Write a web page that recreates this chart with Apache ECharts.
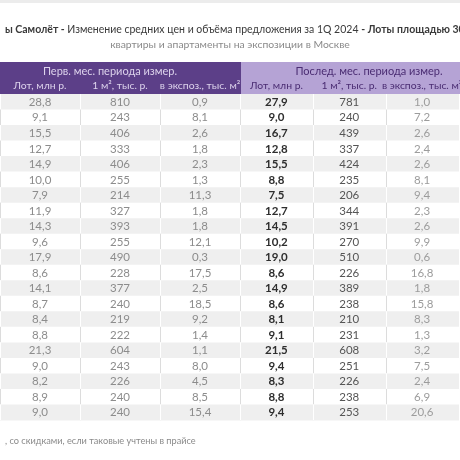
<!DOCTYPE html>
<html><head><meta charset="utf-8">
<script src="https://cdn.jsdelivr.net/npm/echarts@6/dist/echarts.min.js"></script>
<style>html,body{margin:0;padding:0;background:#fff}#c{width:460px;height:460px}</style>
</head><body><div id="c"></div>
<script>
// ---- data ----
const rowIds = ['1','2','3','4','5','6','7','8','9','10','11','12','13','14','15','16','17','18','19','20','21'];
const colHeaders = ['Лот, млн р.', '1 м², тыс. р.', 'в экспоз., тыс. м²'];
const groupHeaders = ['Перв. мес. периода измер.', 'Послед. мес. периода измер.'];
const lotFirst  = [28.8, 9.1, 15.5, 12.7, 14.9, 10.0, 7.9, 11.9, 14.3, 9.6, 17.9, 8.6, 14.1, 8.7, 8.4, 8.8, 21.3, 9.0, 8.2, 8.9, 9.0];
const m2First   = [810, 243, 406, 333, 406, 255, 214, 327, 393, 255, 490, 228, 377, 240, 219, 222, 604, 243, 226, 240, 240];
const expoFirst = [0.9, 8.1, 2.6, 1.8, 2.3, 1.3, 11.3, 1.8, 1.8, 12.1, 0.3, 17.5, 2.5, 18.5, 9.2, 1.4, 1.1, 8.0, 4.5, 8.5, 15.4];
const lotLast   = [27.9, 9.0, 16.7, 12.8, 15.5, 8.8, 7.5, 12.7, 14.5, 10.2, 19.0, 8.6, 14.9, 8.6, 8.1, 9.1, 21.5, 9.4, 8.3, 8.8, 9.4];
const m2Last    = [781, 240, 439, 337, 424, 235, 206, 344, 391, 270, 510, 226, 389, 238, 210, 231, 608, 251, 226, 238, 253];
const expoLast  = [1.0, 7.2, 2.6, 2.4, 2.6, 8.1, 9.4, 2.3, 2.6, 9.9, 0.6, 16.8, 1.8, 15.8, 8.3, 1.3, 3.2, 7.5, 2.4, 6.9, 20.6];
const titleBold1 = 'ы Самолёт - ';
const titleMid = 'Изменение средних цен и объёма предложения за 1Q 2024 ';
const titleBold2 = '- Лоты площадью 30–40 м²';
const subtitle = 'квартиры и апартаменты на экспозиции в Москве';
const footnote = ', со скидками, если таковые учтены в прайсе';

// ---- build ----
function toCells(cols) {
  const out = [];
  cols.forEach((arr, c) => arr.forEach((v, r) => out.push([c, r, v])));
  return out;
}
function fmt(col, v) { return col === 1 ? String(v) : v.toFixed(1).replace('.', ','); }
const FONT = 'Lato, "Open Sans", sans-serif';
function makeRender(styles) {
  return function (params, api) {
    const col = api.value(0), row = api.value(1), v = api.value(2);
    const c = api.coord([col, row]);
    const s = api.size([1, 1]);
    const x0 = c[0] - s[0] / 2, y0 = c[1] - s[1] / 2;
    const shaded = row % 2 === 0;
    const st = styles[col];
    const children = [
      { type: 'rect', shape: { x: x0, y: y0, width: s[0] + 0.5, height: s[1] + 0.5 },
        style: { fill: shaded ? '#efefef' : '#ffffff' } },
      { type: 'line', shape: { x1: Math.round(x0) + 0.5, y1: y0, x2: Math.round(x0) + 0.5, y2: y0 + s[1] },
        style: { stroke: shaded ? '#ffffff' : '#dcdcdc', lineWidth: 1 } },
      { type: 'text', x: c[0], y: c[1] + 0.5,
        style: { text: fmt(col, v), fill: st.color, font: st.weight + ' 11.5px ' + FONT, align: 'center', verticalAlign: 'middle' } }
    ];
    return { type: 'group', children };
  };
}
const leftStyles = [
  { color: '#8c8c8c', weight: 'normal' },
  { color: '#8c8c8c', weight: 'normal' },
  { color: '#8c8c8c', weight: 'normal' }
];
const rightStyles = [
  { color: '#2e2e2e', weight: 'bold' },
  { color: '#555555', weight: 'normal' },
  { color: '#9c9c9c', weight: 'normal' }
];
const gridTop = 94, gridH = 326;
const chart = echarts.init(document.getElementById('c'), null, { renderer: 'canvas' });
chart.setOption({
  animation: false,
  backgroundColor: '#ffffff',
  title: [
    { left: 0, top: 19, text: '{b|' + titleBold1 + '}{n|' + titleMid + '}{b|' + titleBold2 + '}',
      textStyle: { rich: {
        b: { fontFamily: FONT, fontSize: 10.5, fontWeight: 'bold', color: '#3a3a3a' },
        n: { fontFamily: FONT, fontSize: 10.5, fontWeight: 'normal', color: '#3a3a3a' } } } },
    { left: 225, textAlign: 'center', top: 35, text: subtitle,
      textStyle: { fontFamily: FONT, fontSize: 10.4, fontWeight: 'normal', color: '#8a8a8a' } },
    { left: 0, top: 432, text: footnote,
      textStyle: { fontFamily: FONT, fontSize: 9.2, fontWeight: 'normal', color: '#8a8a8a' } }
  ],
  graphic: [
    { type: 'rect', left: 0, top: 0, shape: { width: 460, height: 3 }, style: { fill: '#ececec' }, z: 0 },
    { type: 'rect', left: 0, top: 62, shape: { width: 241, height: 32 }, style: { fill: '#5c3f88' }, z: 0 },
    { type: 'rect', left: 241, top: 62, shape: { width: 219, height: 32 }, style: { fill: '#b5a3d5' }, z: 0 },
    { type: 'text', x: 110, y: 71, style: { text: groupHeaders[0], fill: '#ddd3ec', font: '11px ' + FONT, align: 'center', verticalAlign: 'middle' }, z: 5 },
    { type: 'text', x: 369, y: 71, style: { text: groupHeaders[1], fill: '#4a2c72', font: '11px ' + FONT, align: 'center', verticalAlign: 'middle' }, z: 5 }
  ],
  grid: [
    { left: -20, top: gridTop, width: 260, height: gridH },
    { left: 240, top: gridTop, width: 250, height: gridH }
  ],
  xAxis: [
    { gridIndex: 0, type: 'category', data: colHeaders, position: 'top',
      axisLine: { show: false }, axisTick: { show: false },
      axisLabel: { color: '#ddd3ec', fontFamily: FONT, fontSize: 10.4, margin: 3, interval: 0 } },
    { gridIndex: 1, type: 'category', data: colHeaders, position: 'top',
      axisLine: { show: false }, axisTick: { show: false },
      axisLabel: { color: '#4a2c72', fontFamily: FONT, fontSize: 10.4, margin: 3, interval: 0 } }
  ],
  yAxis: [
    { gridIndex: 0, type: 'category', data: rowIds, inverse: true, show: false },
    { gridIndex: 1, type: 'category', data: rowIds, inverse: true, show: false }
  ],
  series: [
    { type: 'custom', xAxisIndex: 0, yAxisIndex: 0, clip: false,
      renderItem: makeRender(leftStyles), data: toCells([lotFirst, m2First, expoFirst]) },
    { type: 'custom', xAxisIndex: 1, yAxisIndex: 1, clip: false,
      renderItem: makeRender(rightStyles), data: toCells([lotLast, m2Last, expoLast]) }
  ]
});
</script></body></html>
